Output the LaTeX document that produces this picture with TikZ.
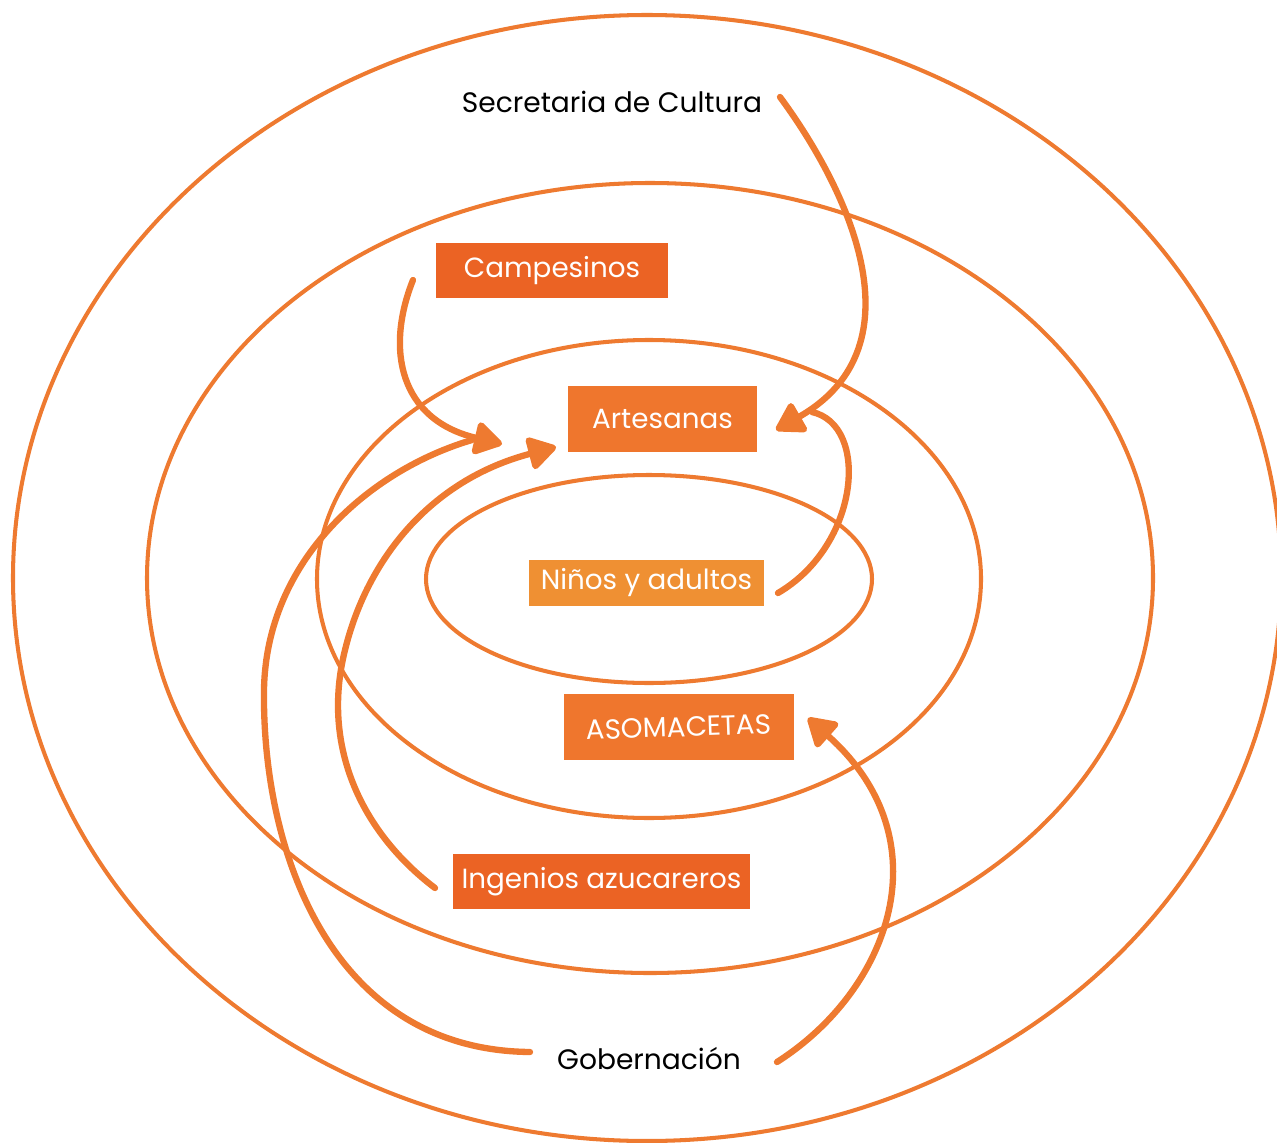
\documentclass[tikz,border=0pt]{standalone}
\usepackage{fontspec}
\setmainfont{Poppins}
\usetikzlibrary{arrows.meta}
\definecolor{ring}{RGB}{238,122,48}
\definecolor{boxdark}{RGB}{235,99,36}
\definecolor{boxmid}{RGB}{239,118,45}
\definecolor{boxlight}{RGB}{239,144,51}
\tikzset{
  ringline/.style={draw=ring, line width=2.3pt},
  flow/.style={draw=ring, line width=3.6pt, line cap=round},
  flowtip/.style={flow, -{Triangle[length=0.62cm, width=0.72cm, round]}},
  tag/.style={inner sep=0pt, text=white, font=\fontsize{15.8}{19}\selectfont, anchor=center},
  plain/.style={inner sep=0pt, text=black, font=\fontsize{16}{19}\selectfont},
}
\begin{document}
\begin{tikzpicture}[x=0.02cm, y=-0.02cm]
\useasboundingbox (0,0) rectangle (1277,1142);
% rings
\draw[ringline] (647,578) ellipse [x radius=634, y radius=563];
\draw[ringline] (650,578) ellipse [x radius=503, y radius=395];
\draw[ringline] (649,579) ellipse [x radius=332, y radius=239];
\draw[ringline] (649,579) ellipse [x radius=223, y radius=104];

% labels
\node[plain] (sec) at (612,102) {Secretaria de Cultura};
\node[plain] (gob) at (649,1059) {Gobernación};
\node[tag, fill=boxdark, minimum width=232*0.02cm, minimum height=55*0.02cm] (cam) at (552,270.5) {Campesinos};
\node[tag, fill=boxmid, minimum width=189*0.02cm, minimum height=66*0.02cm] (art) at (662.5,419) {Artesanas};
\node[tag, fill=boxlight, minimum width=235*0.02cm, minimum height=46*0.02cm] (nin) at (646.5,583) {Niños y adultos};
\node[tag, fill=boxmid, minimum width=230*0.02cm, minimum height=66*0.02cm] (aso) at (679,727) {};
\node[tag, rotate=2] at (aso.center) {ASOMACETAS};
\node[tag, fill=boxdark, minimum width=297*0.02cm, minimum height=55*0.02cm] (ing) at (601.5,881.5) {Ingenios azucareros};

% connector anchor points
\coordinate (secS) at (780,97);
\coordinate (secT) at (776,430);
\coordinate (ninS) at (778,593);
\coordinate (ninE) at (812,412);
\coordinate (camS) at (413,280);
\coordinate (camT) at (502,444);
\coordinate (gobL) at (530,1052);
\coordinate (gobM) at (264,690);
\coordinate (gobE) at (472,440);
\coordinate (ingS) at (435,888);
\coordinate (ingM) at (345,650);
\coordinate (ingT) at (556,447);
\coordinate (gobR) at (777,1062);
\coordinate (asoT) at (808,718);

% flows
\draw[flowtip] (secS) .. controls (845,185) and (925,345) .. (secT);
\draw[flow] (ninS) .. controls (860,545) and (870,425) .. (ninE);
\draw[flowtip] (camS) .. controls (385,350) and (400,420) .. (camT);
\draw[flow] (gobL) .. controls (330,1050) and (262,850) .. (gobM)
   .. controls (266,560) and (370,470) .. (gobE);
\draw[flowtip] (ingS) .. controls (365,835) and (320,750) .. (ingM)
   .. controls (367,560) and (430,480) .. (ingT);
\draw[flowtip] (gobR) .. controls (890,990) and (945,840) .. (asoT);
\end{tikzpicture}
\end{document}
